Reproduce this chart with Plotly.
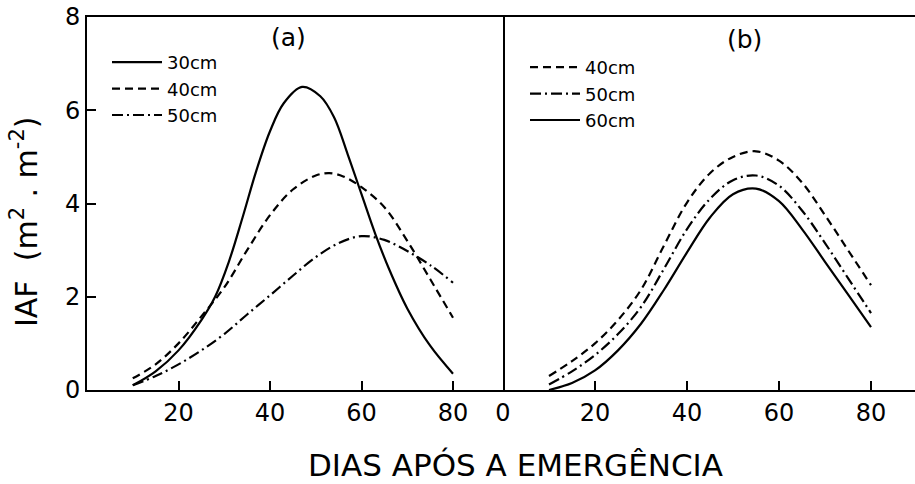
import plotly.graph_objects as go

# ---- data ----
# Panel (a)
days_a30 = [10, 15, 20, 25, 28, 31, 34, 37, 40, 43, 47, 51, 54, 57, 60, 63, 66, 70, 75, 80]
iaf_a30 = [0.10, 0.40, 0.85, 1.50, 2.00, 2.75, 3.70, 4.70, 5.55, 6.15, 6.50, 6.30, 5.85, 5.05, 4.20, 3.35, 2.60, 1.75, 0.95, 0.35]

days_a40 = [10, 15, 20, 25, 30, 35, 40, 45, 50, 53, 56, 60, 65, 70, 75, 80]
iaf_a40 = [0.25, 0.55, 1.00, 1.58, 2.20, 3.00, 3.75, 4.30, 4.60, 4.65, 4.58, 4.35, 3.92, 3.20, 2.38, 1.55]

days_a50 = [10, 15, 20, 25, 30, 35, 40, 45, 50, 55, 60, 65, 70, 75, 80]
iaf_a50 = [0.10, 0.30, 0.55, 0.85, 1.20, 1.62, 2.03, 2.45, 2.85, 3.15, 3.30, 3.22, 2.98, 2.68, 2.30]

# Panel (b)
days_b = [10, 15, 20, 25, 30, 35, 40, 45, 50, 55, 60, 65, 70, 75, 80]
iaf_b40 = [0.30, 0.62, 1.00, 1.50, 2.15, 3.10, 4.02, 4.65, 5.00, 5.12, 4.92, 4.45, 3.75, 3.00, 2.25]
iaf_b50 = [0.12, 0.40, 0.75, 1.20, 1.78, 2.60, 3.45, 4.10, 4.50, 4.60, 4.38, 3.85, 3.15, 2.40, 1.65]
iaf_b60 = [0.00, 0.15, 0.42, 0.85, 1.42, 2.15, 2.95, 3.70, 4.20, 4.32, 4.05, 3.45, 2.75, 2.05, 1.35]

labels_a = ["30cm", "40cm", "50cm"]
labels_b = ["40cm", "50cm", "60cm"]
xticks_a = [20, 40, 60, 80]
xticks_b = [0, 20, 40, 60, 80]
yticks = [0, 2, 4, 6, 8]

FONT = "DejaVu Sans"
DASH = "8px,5px"
DASHDOT = "11px,4px,2px,4px"
LW = 2.2

fig = go.Figure()

def add(x, y, name, dash, xa, lg):
    fig.add_trace(go.Scatter(x=x, y=y, name=name, mode="lines",
                             line=dict(color="black", width=LW, dash=dash, shape="spline", smoothing=1.0),
                             xaxis=xa, yaxis="y", legend=lg))

add(days_a30, iaf_a30, labels_a[0], "solid", "x", "legend")
add(days_a40, iaf_a40, labels_a[1], DASH, "x", "legend")
add(days_a50, iaf_a50, labels_a[2], DASHDOT, "x", "legend")
add(days_b, iaf_b40, labels_b[0], DASH, "x2", "legend2")
add(days_b, iaf_b50, labels_b[1], DASHDOT, "x2", "legend2")
add(days_b, iaf_b60, labels_b[2], "solid", "x2", "legend2")

split = 416 / 828

axis_common = dict(showgrid=False, zeroline=False, showline=True, linecolor="black",
                   linewidth=2, ticks="inside", ticklen=9, tickwidth=1.5, tickcolor="black",
                   tickfont=dict(family=FONT, size=24, color="black"))

legend_common = dict(xanchor="left", yanchor="top", bgcolor="rgba(0,0,0,0)", borderwidth=0,
                     font=dict(family=FONT, size=18, color="black"), tracegroupgap=0,
                     itemwidth=50)

fig.update_layout(
    width=915, height=484,
    margin=dict(l=87, r=0, t=17, b=94),
    paper_bgcolor="white", plot_bgcolor="white",
    showlegend=True,
    xaxis=dict(domain=[0, split], range=[0, 416 / 4.575], tickvals=xticks_a,
               anchor="y", mirror=True, **axis_common),
    xaxis2=dict(domain=[split, 1], range=[0, 412 / 4.6], tickvals=xticks_b,
                anchor="y", mirror=True, **axis_common),
    yaxis=dict(range=[0, 8], tickvals=yticks, anchor="x", mirror=True, **axis_common),
    legend=dict(x=(107 - 87) / 828, y=(390 - 44) / 373, **legend_common),
    legend2=dict(x=(525 - 87) / 828, y=(390 - 49) / 373, **legend_common),
    annotations=[
        dict(text="(a)", x=(288 - 87) / 828, y=(390 - 37) / 373, xref="paper", yref="paper",
             showarrow=False, xanchor="center", yanchor="middle",
             font=dict(family=FONT, size=25, color="black")),
        dict(text="(b)", x=(744 - 87) / 828, y=(390 - 39) / 373, xref="paper", yref="paper",
             showarrow=False, xanchor="center", yanchor="middle",
             font=dict(family=FONT, size=25, color="black")),
        dict(text="DIAS APÓS A EMERGÊNCIA", x=(515 - 87) / 828, y=(390 - 465) / 373,
             xref="paper", yref="paper", showarrow=False, xanchor="center", yanchor="middle",
             font=dict(family=FONT, size=31, color="black")),
        dict(text="IAF  (m<sup>2</sup> . m<sup>-2</sup>)", x=(25 - 87) / 828, y=(390 - 222) / 373,
             xref="paper", yref="paper", showarrow=False, xanchor="center", yanchor="middle",
             textangle=-90, font=dict(family=FONT, size=30, color="black")),
    ],
)

fig.write_html("out.html")
